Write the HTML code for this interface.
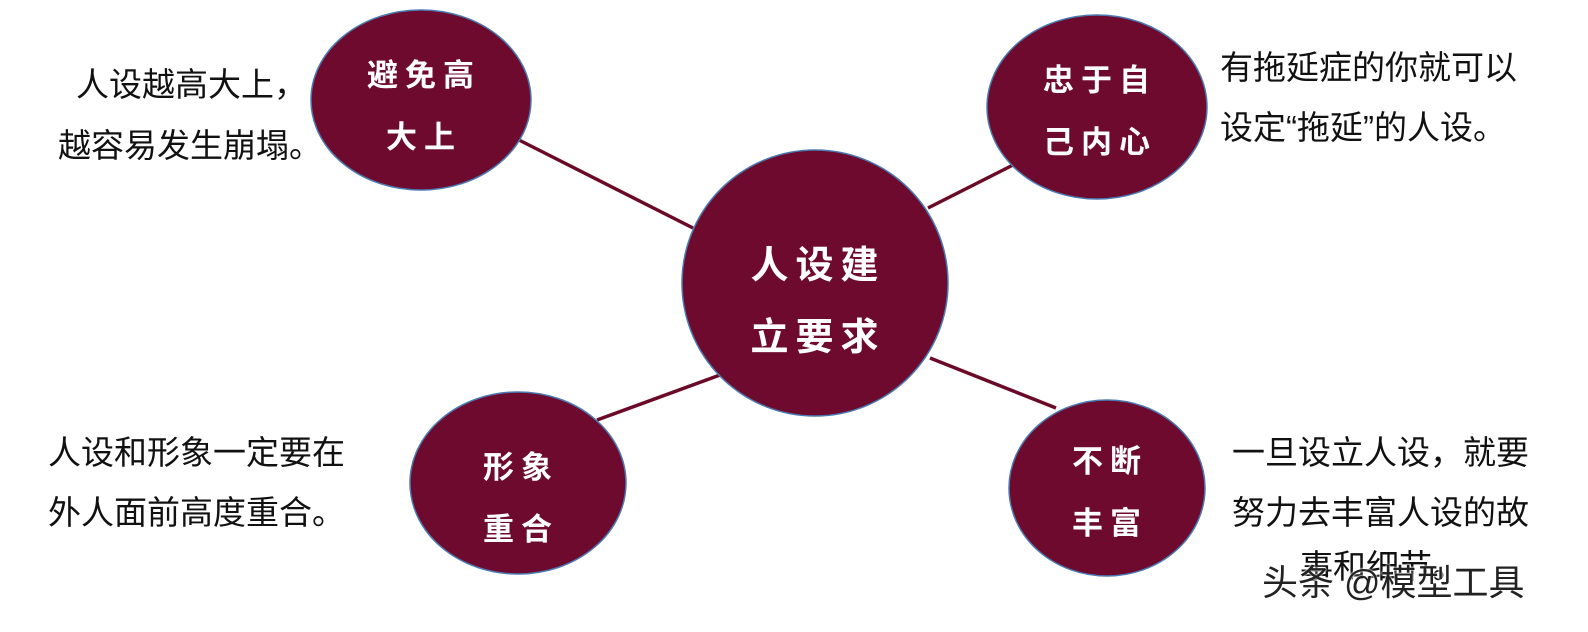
<!DOCTYPE html>
<html><head><meta charset="utf-8"><style>
body{margin:0;width:1588px;height:632px;background:#fff;position:relative;overflow:hidden;font-family:"Liberation Sans","Noto Sans CJK SC",sans-serif;}
.t{position:absolute;font-size:33px;color:#111;white-space:nowrap;line-height:33px;}
.w{position:absolute;font-size:31px;color:#fff;font-weight:bold;white-space:nowrap;text-align:center;letter-spacing:7px;}
</style></head><body>
<svg width="1588" height="632" style="position:absolute;left:0;top:0">
<g stroke="#6b0a28" stroke-width="3.5">
<line x1="519" y1="140" x2="693" y2="228"/>
<line x1="928" y1="208" x2="1013" y2="165"/>
<line x1="597" y1="420" x2="720" y2="375"/>
<line x1="930" y1="358" x2="1056" y2="408"/>
</g>
<g fill="#6e0a2e" stroke="#4a7ab0" stroke-width="1.5">
<circle cx="815" cy="283" r="133"/>
<ellipse cx="421" cy="100" rx="110" ry="90"/>
<ellipse cx="1097" cy="107" rx="110" ry="92"/>
<ellipse cx="518" cy="483" rx="108" ry="91"/>
<ellipse cx="1107" cy="488" rx="98" ry="88"/>
</g>
</svg>
<div class="w" style="left:718px;top:230px;width:200px;font-size:38px;line-height:72px">人设建<br>立要求</div>
<div class="w" style="left:324px;top:45px;width:200px;line-height:62px">避免高<br>大上</div>
<div class="w" style="left:1000px;top:50px;width:200px;line-height:62px">忠于自<br>己内心</div>
<div class="w" style="left:421px;top:437px;width:200px;line-height:62px">形象<br>重合</div>
<div class="w" style="left:1010px;top:431px;width:200px;line-height:62px">不断<br>丰富</div>
<div class="t" style="left:76px;top:68px">人设越高大上，</div>
<div class="t" style="left:58px;top:129px">越容易发生崩塌。</div>
<div class="t" style="left:1220px;top:51px">有拖延症的你就可以</div>
<div class="t" style="left:1220px;top:111px">设定“拖延”的人设。</div>
<div class="t" style="left:48px;top:436px">人设和形象一定要在</div>
<div class="t" style="left:48px;top:496px">外人面前高度重合。</div>
<div class="t" style="left:1232px;top:436px">一旦设立人设，就要</div>
<div class="t" style="left:1232px;top:496px">努力去丰富人设的故</div>
<div class="t" style="left:1300px;top:550px">事和细节。</div>
<div class="t" style="left:1262px;top:565px;font-size:36px;line-height:36px;color:#222;text-shadow:0 0 2px #fff,0 0 2px #fff">头条 @模型工具</div>
</body></html>
